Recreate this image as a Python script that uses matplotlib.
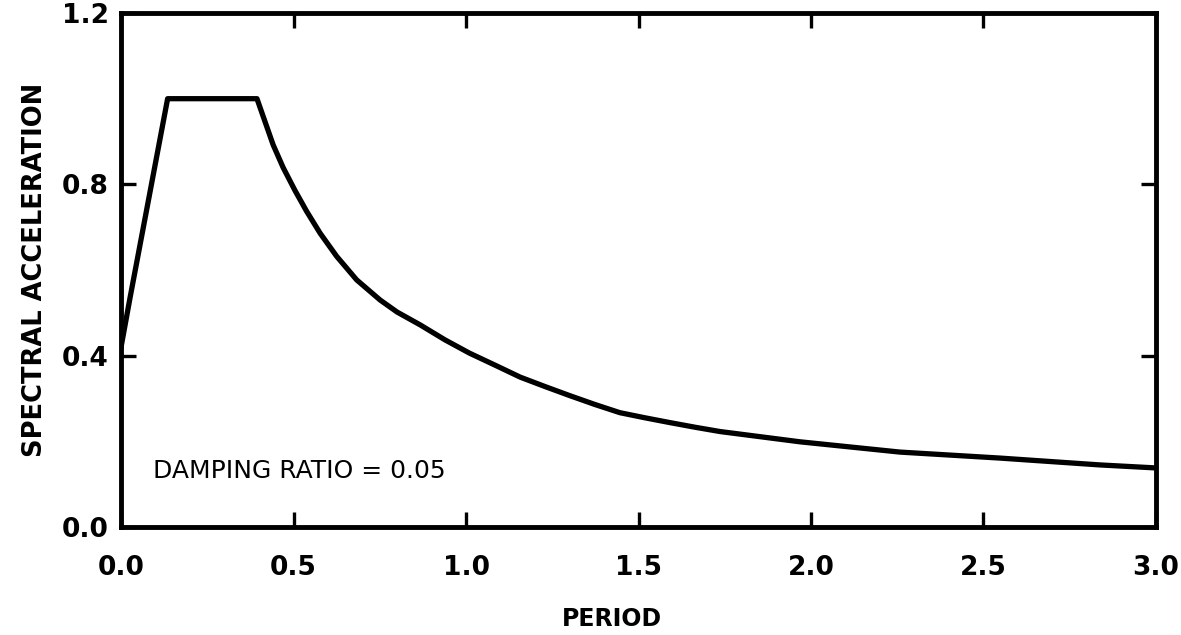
import matplotlib
matplotlib.use('Agg')
import matplotlib.pyplot as plt
import numpy as np

# design spectrum (period in s, spectral acceleration)
period = [0.0, 0.026, 0.135, 0.394, 0.441, 0.470, 0.504, 0.538, 0.577,
          0.625, 0.683, 0.751, 0.800, 0.867, 0.939, 1.01, 1.084, 1.157, 1.229,
          1.30, 1.374, 1.446, 1.519, 1.59, 1.664, 1.736, 1.968, 2.258, 2.548,
          2.838, 3.0]
accel = [0.42, 0.535, 1.0, 1.0, 0.892, 0.839, 0.786, 0.737, 0.686,
         0.632, 0.577, 0.530, 0.502, 0.472, 0.437, 0.406, 0.378, 0.350, 0.328,
         0.307, 0.286, 0.267, 0.255, 0.244, 0.233, 0.223, 0.199, 0.175, 0.161,
         0.145, 0.138]

xticks = [0.0, 0.5, 1.0, 1.5, 2.0, 2.5, 3.0]
yticks = [0.0, 0.4, 0.8, 1.2]
note = 'DAMPING RATIO = 0.05'

plt.rcParams['font.family'] = ['DejaVu Sans']

fig = plt.figure(figsize=(11.81, 6.35), dpi=100)
ax = fig.add_axes([0.1025, 0.170, 0.8763, 0.8095])

ax.plot(period, accel, color='black', lw=3.8, solid_joinstyle='round')

ax.set_xlim(0, 3.0)
ax.set_ylim(0, 1.2)
ax.set_xticks(xticks)
ax.set_yticks(yticks)
ax.set_xticklabels(['%.1f' % v for v in xticks], fontsize=19, fontweight='bold')
ax.set_yticklabels(['%.1f' % v for v in yticks], fontsize=19, fontweight='bold')

ax.tick_params(axis='both', direction='in', length=11, width=2.4,
               top=True, right=True, color='black')
ax.tick_params(axis='x', pad=20)
ax.tick_params(axis='y', pad=9)

for s in ax.spines.values():
    s.set_linewidth(3.5)

ax.set_xlabel('PERIOD', fontsize=17, fontweight='bold')
ax.xaxis.set_label_coords(0.474, -0.155)
ax.set_ylabel('SPECTRAL ACCELERATION', fontsize=18.5, fontweight='bold')
ax.yaxis.set_label_coords(-0.071, 0.5)

ax.text(0.093, 0.114, note, fontsize=18, ha='left', va='baseline')

fig.savefig('out.png', dpi=100)
